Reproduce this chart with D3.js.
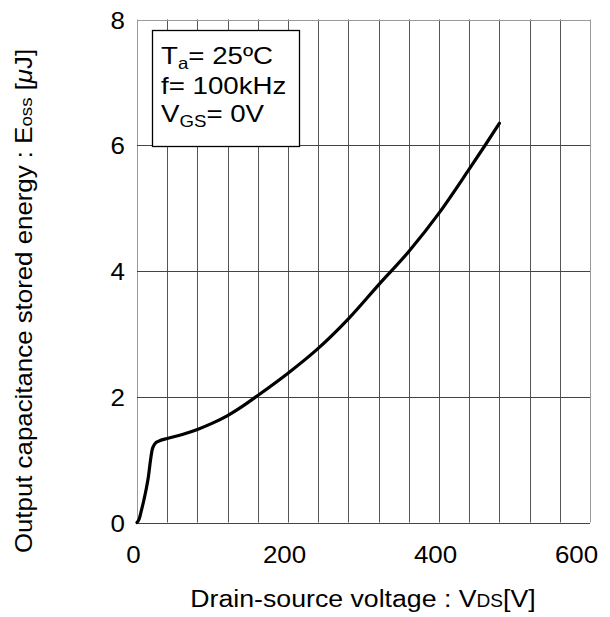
<!DOCTYPE html>
<html><head><meta charset="utf-8">
<script src="https://cdn.jsdelivr.net/npm/d3@7"></script>
<style>body{margin:0;background:#fff}svg{display:block}text{font-family:"Liberation Sans",Arial,sans-serif;fill:#000}</style>
</head><body>
<script>
const voltage = [0, 3, 6, 9, 12, 15, 18, 20, 22, 25, 30, 40, 60, 80, 100, 120, 140, 160, 200, 240, 280, 320, 360, 400, 440, 460, 480];
const energy  = [0, 0.06, 0.2, 0.35, 0.52, 0.72, 1.0, 1.15, 1.22, 1.27, 1.30, 1.335, 1.40, 1.48, 1.58, 1.70, 1.85, 2.02, 2.375, 2.77, 3.24, 3.78, 4.31, 4.92, 5.62, 5.98, 6.35];
const xTicks = [0, 200, 400, 600];
const yTicks = [0, 2, 4, 6, 8];
const xGrid = d3.range(0, 601, 40);
const yGrid = [0, 2, 4, 6, 8];

const W = 610, H = 617;
const m = {l: 137, r: 20, t: 19.5, b: 94.5};
const svg = d3.select("body").append("svg").attr("width", W).attr("height", H);
const x = d3.scaleLinear().domain([0, 600]).range([m.l, W - m.r]);
const y = d3.scaleLinear().domain([0, 8]).range([H - m.b, m.t]);

// grid
svg.append("g").selectAll("line").data(xGrid).join("line")
  .attr("x1", d => Math.round(x(d)) + 0.5).attr("x2", d => Math.round(x(d)) + 0.5)
  .attr("y1", y(0)).attr("y2", y(8))
  .attr("stroke", (d, i) => (i === 0 || i === xGrid.length - 1) ? "#999" : "#555").attr("stroke-width", 1);
svg.append("g").selectAll("line").data(yGrid).join("line")
  .attr("y1", d => Math.round(y(d)) + 0.5).attr("y2", d => Math.round(y(d)) + 0.5)
  .attr("x1", x(0)).attr("x2", x(600))
  .attr("stroke", (d, i) => (i === yGrid.length - 1) ? "#999" : "#444").attr("stroke-width", 1);

// axes (labels only)
const xAxis = svg.append("g").attr("transform", `translate(0,${y(0)})`)
  .call(d3.axisBottom(x).tickValues(xTicks).tickSize(0).tickPadding(0).tickFormat(d3.format("d")));
xAxis.select(".domain").remove();
xAxis.selectAll("text").attr("y", null).attr("dy", null)
  .attr("transform", d => `translate(${d === 600 ? -14 : -4},40) scale(1.08,1)`)
  .style("font-size", "24px").attr("text-anchor", "middle");

const yAxis = svg.append("g").attr("transform", `translate(${x(0)},0)`)
  .call(d3.axisLeft(y).tickValues(yTicks).tickSize(0).tickPadding(0).tickFormat(d3.format("d")));
yAxis.select(".domain").remove();
yAxis.selectAll("text").attr("x", null).attr("dy", null)
  .attr("transform", `translate(-12,8.5) scale(1.08,1)`)
  .style("font-size", "24px").attr("text-anchor", "end");

// curve
const pts = voltage.map((v, i) => [v, energy[i]]);
svg.append("path").datum(pts)
  .attr("fill", "none").attr("stroke", "#000").attr("stroke-width", 3.2)
  .attr("stroke-linecap", "round")
  .attr("d", d3.line().x(d => x(d[0])).y(d => y(d[1])).curve(d3.curveMonotoneX));

// legend box
const lg = svg.append("g");
lg.append("rect").attr("x", 152.5).attr("y", 30.5).attr("width", 147).attr("height", 116)
  .attr("fill", "#fff").attr("stroke", "#000").attr("stroke-width", 1.3);
const lt = [
  [{t: "T"}, {t: "a", sub: true}, {t: "= 25ºC"}],
  [{t: "f= 100kHz"}],
  [{t: "V"}, {t: "GS", sub: true}, {t: "= 0V"}]
];
const lineY = [64, 94, 122];
lt.forEach((parts, i) => {
  const t = lg.append("text").attr("transform", `translate(161,${lineY[i]}) scale(1.13,1)`)
    .style("font-size", "24.5px");
  parts.forEach((p, j) => {
    const ts = t.append("tspan").text(p.t);
    if (p.sub) ts.style("font-size", "16.5px").attr("dy", 4.5);
    else if (j > 0) ts.attr("dy", -4.5);
  });
});

// x title
const xt = svg.append("text").attr("transform", `translate(363,607) scale(1.09,1)`)
  .attr("text-anchor", "middle").style("font-size", "24.5px");
xt.append("tspan").text("Drain-source voltage : V");
xt.append("tspan").text("DS").style("font-size", "17.5px");
xt.append("tspan").text("[V]");

// y title
const yt = svg.append("text").attr("transform", `translate(32,301) rotate(-90) scale(1.1,1)`)
  .attr("text-anchor", "middle").style("font-size", "23.5px");
yt.append("tspan").text("Output capacitance stored energy : E");
yt.append("tspan").text("oss").style("font-size", "17px");
yt.append("tspan").text(" [");
yt.append("tspan").text("μ").style("font-style", "italic");
yt.append("tspan").text("J]");
</script>
</body></html>
